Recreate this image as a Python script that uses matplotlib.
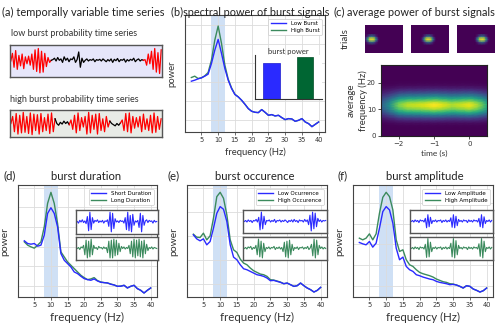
import numpy as np
import matplotlib
matplotlib.use("Agg")
import matplotlib.pyplot as plt

# ---------------- data ----------------
freqs = list(range(2, 41))

b_low = [15.2, 15.5, 15.9, 16.2, 16.7, 17.3, 20.5, 24.5, 27.7, 23.5, 19.0, 15.5, 13.0, 11.2, 10.5, 9.5, 8.3, 7.0, 6.2, 5.9,
         5.8, 6.7, 5.9, 5.0, 5.2, 4.8, 5.0, 4.3, 3.7, 4.0, 3.9, 3.2, 3.5, 4.0, 3.0, 2.5, 1.6, 2.3, 3.0]
b_high = [16.3, 16.7, 16.0, 16.2, 16.8, 17.8, 21.5, 27.5, 31.7, 26.5, 20.0, 15.8, 13.2, 11.3, 10.5, 9.5, 8.3, 7.0, 6.2, 5.9,
          5.8, 6.7, 5.9, 5.0, 5.2, 4.8, 5.0, 4.3, 3.7, 4.0, 3.9, 3.2, 3.5, 4.0, 3.0, 2.5, 1.6, 2.3, 3.0]

d_low = [16.8, 16.0, 15.8, 16.0, 15.2, 15.5, 18.5, 25.0, 26.7, 25.0, 21.0, 13.0, 11.0, 10.0, 9.0, 7.5, 7.0, 6.2, 5.5, 5.2,
         5.0, 5.4, 4.8, 4.4, 4.3, 4.2, 3.8, 3.6, 3.2, 3.2, 3.5, 2.7, 3.2, 3.5, 2.5, 2.0, 1.2, 2.0, 2.7]
d_high = [16.5, 15.5, 15.0, 14.6, 15.5, 16.5, 21.0, 28.0, 31.3, 28.0, 22.0, 13.5, 12.0, 10.5, 9.5, 8.5, 7.5, 6.5, 5.8, 5.2,
          5.4, 5.8, 4.9, 4.5, 4.3, 4.2, 3.9, 3.6, 3.2, 3.3, 3.5, 2.7, 3.2, 3.5, 2.5, 2.0, 1.2, 2.0, 2.7]

e_low = [18.7, 17.5, 16.9, 17.5, 15.7, 16.7, 20.7, 25.2, 27.2, 26.4, 22.7, 15.7, 12.0, 11.2, 9.7, 8.5, 8.2, 7.7, 7.2, 6.7,
         6.5, 6.2, 5.7, 4.9, 5.0, 4.7, 4.4, 4.0, 4.2, 3.7, 3.2, 3.4, 4.2, 3.4, 2.7, 2.2, 1.5, 2.0, 2.9]
e_high = [18.9, 18.0, 17.9, 19.2, 17.2, 18.4, 23.7, 30.2, 31.5, 29.7, 24.7, 17.2, 14.2, 13.4, 11.4, 10.2, 9.7, 8.7, 7.9, 7.4,
          6.9, 6.7, 6.2, 5.2, 5.1, 4.8, 4.5, 4.0, 4.2, 3.7, 3.2, 3.4, 4.2, 3.4, 2.7, 2.2, 1.5, 2.0, 2.9]

f_low = [16.4, 16.0, 15.7, 16.7, 15.0, 16.2, 20.7, 25.7, 27.2, 26.2, 22.2, 14.7, 11.2, 12.0, 9.2, 8.2, 7.7, 6.7, 6.4, 6.0,
         5.7, 5.4, 5.2, 4.7, 4.4, 4.2, 4.0, 3.7, 3.8, 3.6, 3.2, 2.7, 3.4, 3.2, 2.4, 2.0, 1.5, 1.9, 2.7]
f_high = [17.7, 17.2, 17.7, 19.0, 17.2, 19.0, 25.2, 30.0, 31.5, 30.2, 26.2, 17.2, 13.7, 14.2, 11.2, 9.7, 9.2, 8.2, 7.4, 7.0,
          6.7, 6.4, 6.0, 5.4, 5.0, 4.6, 4.4, 4.0, 3.9, 3.6, 3.2, 2.7, 3.4, 3.2, 2.4, 2.0, 1.5, 1.9, 2.7]

bar_labels = ["Low Burst", "High Burst"]
bar_values = [0.82, 0.95]

# (a) time series: segments (values, colour)
low_red_a = [0.0, 0.55, -0.45, 0.75, -0.6, 0.4, -0.35, 0.5, -0.55, 0.3, -0.2, 0.35, -0.3, 0.5, -0.6, 0.8, -0.75, 0.9,
             -0.85, 0.7, -0.8, 0.55, -0.4, 0.25, -0.1, 0.05]
low_black = [0.1, 0.2, 0.0, 0.25, 0.05, 0.15, -0.1, 0.3, 0.05, 0.2, -0.05, 0.15, 0.1, 0.3, -0.1, 0.1, 0.65, -0.45, 0.2,
             -0.1, 0.05, 0.15, 0.0, 0.1, 0.05, 0.15, -0.05, 0.1, 0.05, 0.12, 0.0, 0.15, 0.05, -0.05, 0.1, 0.0, 0.15, -0.1,
             0.12, 0.02, 0.18, -0.05, 0.1, 0.05, 0.15, -0.08, 0.1, 0.0, 0.12, 0.05, 0.2, -0.05, 0.08, 0.15, 0.0, 0.1, 0.05]
low_red_b = [0.1, -0.3, 0.5, -0.2, 0.7, -0.6, 0.9, -0.8, 0.6, -0.9, 0.8]

high_red_1 = [0.0, 0.6, -0.7, 0.85, -0.9, 0.7, -0.8, 0.95, -0.75, 0.6, -0.85, 0.9, -0.95, 0.8, -0.6, 0.75, -0.9, 0.85,
              -0.7, 0.5, -0.6, 0.8, -0.85, 0.9, -0.7, 0.4]
high_black_1 = [0.0, -0.15, 0.1, -0.05, 0.2, 0.0, 0.15, -0.1]
high_red_2 = [0.3, -0.5, 0.7, -0.8, 0.9, -0.6, 0.5, -0.3, 0.6, -0.9, 0.95, -0.8, 0.7, -0.5, 0.8, -0.9, 0.85, -0.6, 0.4,
              -0.7, 0.6, -0.3, 0.2]
high_black_2 = [0.0, -0.1, -0.2, 0.0, -0.15, 0.05]
high_red_3 = [0.3, -0.6, 0.85, -0.7, 0.9, -0.8, 0.6, -0.4, 0.5, -0.3, 0.6, -0.7, 0.8, -0.5, 0.4, -0.6, 0.7, -0.8, 0.9,
              -0.75, 0.6, -0.5, 0.4]

# inset signals of (d), (e), (f)
d_sig_blue = [0.05, -0.1, 0.15, 0.0, 0.2, -0.05, 0.1, -0.15, 0.5, -0.8, 0.9, -0.7, 0.4, -0.1, 0.15, 0.05, 0.2, -0.05,
              0.1, 0.0, 0.15, -0.1, 0.1, 0.05, 0.2, -0.4, 0.9, -0.9, 0.8, -0.6, 0.3, 0.0, 0.1, -0.05, 0.15, 0.05, 0.1,
              -0.1, 0.4, -0.7, 0.9, -0.8, 0.6, -0.9, 0.7, -0.3, 0.1, 0.0, 0.15, -0.5, 0.8, -0.9, 0.6, -0.3, 0.1, 0.2,
              -0.05, 0.15, 0.05, 0.1, -0.1, 0.15, 0.0, 0.05]
d_sig_green = [0.0, 0.1, -0.1, 0.15, 0.05, 0.3, -0.6, 0.8, -0.9, 0.7, -0.8, 0.9, -0.6, 0.3, 0.0, 0.1, -0.1, 0.2, 0.05,
               0.1, -0.05, 0.15, 0.0, 0.1, -0.4, 0.7, -0.9, 0.8, -0.9, 0.9, -0.7, 0.8, -0.6, 0.5, -0.3, 0.2, 0.0, 0.15,
               -0.05, 0.1, 0.0, 0.3, -0.5, 0.7, -0.8, 0.9, -0.9, 0.8, -0.7, 0.9, -0.8, 0.7, -0.9, 0.8, -0.5, 0.4, -0.2,
               0.1, 0.0, 0.15, -0.05, 0.1, 0.05, 0.0]
e_sig_blue = [0.0, 0.1, -0.05, 0.15, 0.0, 0.1, -0.1, 0.1, 0.05, 0.2, -0.05, 0.4, -0.8, 0.9, -0.7, 0.5, -0.3, 0.1, 0.05,
              0.15, -0.05, 0.1, 0.0, 0.2, -0.1, 0.1, 0.05, 0.15, -0.05, 0.1, 0.0, 0.15, 0.05, -0.1, 0.1, 0.0, 0.15,
              -0.05, 0.2, 0.0, 0.1, -0.1, 0.15, 0.05, 0.1, -0.05, 0.2, 0.0, 0.15, -0.3, 0.6, -0.9, 0.9, -0.7, 0.8,
              -0.5, 0.3, 0.0, 0.15, -0.05, 0.1, 0.05, 0.1]
e_sig_green = [0.0, 0.1, -0.05, 0.15, 0.05, 0.2, -0.1, 0.1, 0.0, 0.3, -0.6, 0.9, -0.8, 0.7, -0.9, 0.5, -0.3, 0.1, 0.0,
               0.15, -0.05, 0.1, 0.05, 0.2, -0.1, 0.1, 0.0, 0.15, -0.05, 0.1, -0.3, 0.6, -0.8, 0.7, -0.9, 0.8, -0.6,
               0.4, -0.2, 0.1, 0.0, 0.15, -0.1, 0.1, 0.05, 0.15, -0.05, 0.1, 0.0, 0.2, -0.1, 0.05, 0.4, -0.7, 0.9,
               -0.9, 0.8, -0.6, 0.3, 0.0, 0.15, -0.05, 0.1, 0.0]
f_sig_blue = [0.0, 0.1, -0.05, 0.15, 0.0, 0.1, -0.1, 0.15, 0.05, 0.1, -0.05, 0.3, -0.6, 0.65, -0.5, 0.4, -0.2, 0.1, 0.0,
              0.15, -0.05, 0.1, 0.05, 0.15, -0.1, 0.1, 0.0, 0.15, -0.05, 0.1, 0.0, 0.35, -0.55, 0.65, -0.6, 0.5, -0.4,
              0.2, 0.0, 0.1, -0.05, 0.15, 0.05, 0.1, -0.1, 0.15, 0.0, 0.1, -0.05, 0.15, 0.05, 0.1, -0.05, 0.3, -0.5,
              0.65, -0.6, 0.45, -0.2, 0.1, 0.0, 0.15, -0.05, 0.1]
f_sig_green = [0.0, 0.1, -0.05, 0.15, 0.0, 0.1, -0.1, 0.15, 0.05, 0.1, -0.05, 0.4, -0.85, 0.95, -0.8, 0.6, -0.3, 0.1,
               0.0, 0.15, -0.05, 0.1, 0.05, 0.15, -0.1, 0.1, 0.0, 0.15, -0.05, 0.1, 0.0, 0.5, -0.8, 0.95, -0.9, 0.75,
               -0.6, 0.3, 0.0, 0.1, -0.05, 0.15, 0.05, 0.1, -0.1, 0.15, 0.0, 0.1, -0.05, 0.15, 0.05, 0.1, -0.05, 0.45,
               -0.75, 0.95, -0.9, 0.7, -0.3, 0.1, 0.0, 0.15, -0.05, 0.1]

# (c) heat map profiles
heat_times = [-2.5, -2.25, -2.0, -1.75, -1.5, -1.25, -1.0, -0.75, -0.5, -0.25, 0.0, 0.25, 0.5]
heat_time_profile = [0.3, 0.5, 0.8, 0.9, 0.92, 0.95, 1.0, 0.95, 0.88, 0.92, 0.97, 0.85, 0.6]
heat_freqs = list(range(0, 28))
heat_freq_profile = [0, 0, 0, 0, 0.01, 0.04, 0.12, 0.25, 0.45, 0.68, 0.87, 0.98, 1.0, 0.87, 0.68, 0.47, 0.3, 0.17,
                     0.08, 0.03, 0.01, 0, 0, 0, 0, 0, 0, 0]
trial_blob = [[0.0, 0.05, 0.15, 0.3, 0.4, 0.4, 0.3, 0.15, 0.05, 0.0],
              [0.05, 0.3, 0.65, 0.95, 1.0, 1.0, 0.95, 0.65, 0.3, 0.05],
              [0.0, 0.05, 0.15, 0.3, 0.4, 0.4, 0.3, 0.15, 0.05, 0.0]]
trial_start_cols = [0, 7, 12]

# ---------------- style ----------------
BLUE = "#2a2aff"
GREEN = "#3b8a5d"
BAND = "#cfe0f5"
LF = "Lato"
W, H = 500, 324

fig = plt.figure(figsize=(5.0, 3.24), dpi=100)


def px_axes(x0, y0, x1, y1, **kw):
    return fig.add_axes([x0 / W, 1 - y1 / H, (x1 - x0) / W, (y1 - y0) / H], **kw)


def ftext(x, y, s, **kw):
    kw.setdefault("family", LF)
    fig.text(x / W, 1 - y / H, s, **kw)


def spectrum_axes(box, low, high, labels, ylim, gridvals, xl=8.3, yl=7.5):
    ax = px_axes(*box)
    ax.axvspan(8, 12, color=BAND, lw=0, zorder=0)
    ax.plot(freqs, low, color=BLUE, lw=1.0, label=labels[0], zorder=3)
    ax.plot(freqs, high, color=GREEN, lw=1.0, label=labels[1], zorder=2)
    ax.set_xlim(0.1, 41.9)
    ax.set_ylim(*ylim)
    ax.set_xticks([5, 10, 15, 20, 25, 30, 35, 40])
    ax.set_yticks(gridvals)
    ax.set_yticklabels([])
    ax.grid(True, color="#dcdcdc", lw=0.6, zorder=0)
    ax.set_axisbelow(True)
    ax.tick_params(axis="x", labelsize=4.8, length=2, width=0.5, pad=1.5, colors="#333333")
    ax.tick_params(axis="y", length=0)
    for s in ax.spines.values():
        s.set_color("#444444")
        s.set_linewidth(0.8)
    ax.set_xlabel("frequency (Hz)", family=LF, fontsize=xl, color="#333333", labelpad=3)
    ax.set_ylabel("power", family=LF, fontsize=yl, color="#333333", labelpad=3)
    leg = ax.legend(loc="upper right", fontsize=4, frameon=True, handlelength=2.8, borderpad=0.4,
                    labelspacing=0.3, fancybox=True, framealpha=1, edgecolor="#cccccc",
                    bbox_to_anchor=(0.995, 0.99))
    leg.get_frame().set_linewidth(0.5)
    return ax


def signal_inset(box, sig, color):
    ax = px_axes(*box)
    ax.plot(range(len(sig)), sig, color=color, lw=0.8)
    ax.set_xlim(-1, len(sig))
    ax.set_ylim(-1.1, 1.1)
    ax.set_xticks([])
    ax.set_yticks([])
    ax.set_facecolor("white")
    for s in ax.spines.values():
        s.set_color("#555555")
        s.set_linewidth(1.0)
    return ax


def series_box(box, segments, face):
    ax = px_axes(*box)
    start = 0
    prev = None
    for vals, col in segments:
        xs = list(range(start, start + len(vals)))
        ys = list(vals)
        if prev is not None:
            xs = [start - 1] + xs
            ys = [prev] + ys
        ax.plot(xs, ys, color=col, lw=0.9)
        start += len(vals)
        prev = vals[-1]
    ax.set_xlim(-0.5, start - 0.5)
    ax.set_ylim(-1.15, 1.15)
    ax.set_facecolor(face)
    ax.set_xticks([])
    ax.set_yticks([])
    for s in ax.spines.values():
        s.set_color("#555555")
        s.set_linewidth(1.0)
    return ax


# ---------------- panel (a) ----------------
ftext(2, 12, "(a) temporally variable time series", fontsize=7.9, va="center", ha="left", color="#222222")
ftext(11, 33, "low burst probability time series", fontsize=6.5, va="center", ha="left", color="#333333")
ftext(10, 99, "high burst probability time series", fontsize=6.5, va="center", ha="left", color="#333333")
series_box((10, 45, 162, 77), [(low_red_a, "red"), (low_black, "black"), (low_red_b, "red")], "#e6e6fa")
series_box((10, 110, 162, 137), [(high_red_1, "red"), (high_black_1, "black"), (high_red_2, "red"),
                                  (high_black_2, "black"), (high_red_3, "red")], "#e8ebe6")

# ---------------- panel (b) ----------------
ftext(171, 12, "(b)spectral power of burst signals", fontsize=7.8, va="center", ha="left", color="#222222")
axb = spectrum_axes((185, 15, 325, 132), b_low, b_high, bar_labels, (0, 35),
                    [3.7, 9.4, 15.0, 20.7, 26.3, 32.0], xl=6.8, yl=6.8)

axbar = px_axes(255, 55, 322, 99)
axbar.bar([0, 1], bar_values, width=0.5, color=[BLUE, "#006633"], edgecolor=["#1a1acc", "#004d26"], linewidth=0.5)
axbar.set_xlim(-0.49, 1.51)
axbar.set_ylim(0, 1.0)
axbar.set_xticks([])
axbar.set_yticks([])
axbar.set_facecolor("white")
axbar.spines["top"].set_visible(False)
axbar.spines["right"].set_visible(False)
axbar.spines["left"].set_color("#333333")
axbar.spines["bottom"].set_color("#333333")
axbar.spines["left"].set_linewidth(0.8)
axbar.spines["bottom"].set_linewidth(0.8)
axbar.set_title("burst power", family=LF, fontsize=5.5, color="#333333", pad=1)

# ---------------- panel (c) ----------------
ftext(334, 12, "(c)", fontsize=8.2, va="center", ha="left", color="#222222")
ftext(347, 12, "average power of burst signals", fontsize=7.9, va="center", ha="left", color="#222222")
ftext(345, 39, "trials", fontsize=7, rotation=90, va="center", ha="center", color="#333333")
ftext(351, 100, "average", fontsize=7, rotation=90, va="center", ha="center", color="#333333")

trial_rows, trial_cols = 11, 26
for i, c0 in enumerate(trial_start_cols):
    x0 = 365 + i * 46
    axt = px_axes(x0, 25, x0 + 38, 53)
    img = np.zeros((trial_rows, trial_cols))
    blob = np.array(trial_blob)
    img[4:7, c0:c0 + blob.shape[1]] = blob
    axt.pcolormesh(np.arange(trial_cols), np.arange(trial_rows), img, shading="gouraud", cmap="viridis",
                   vmin=0, vmax=1)
    axt.set_xlim(0, trial_cols - 1)
    axt.set_ylim(0, trial_rows - 1)
    axt.set_xticks([])
    axt.set_yticks([])
    for s in axt.spines.values():
        s.set_visible(False)

axc = px_axes(381, 65, 487, 136)
Z = np.outer(heat_freq_profile, heat_time_profile)
axc.pcolormesh(heat_times, heat_freqs, Z, shading="gouraud", cmap="viridis", vmin=0, vmax=1)
axc.set_xlim(-2.5, 0.5)
axc.set_ylim(0, 26.6)
axc.set_xticks([-2, -1, 0])
axc.set_yticks([0, 10, 20])
axc.tick_params(labelsize=5, length=2.5, width=0.6, pad=1.2, colors="#333333")
axc.set_xlabel("time (s)", family=LF, fontsize=6, color="#333333", labelpad=2)
axc.set_ylabel("frequency (Hz)", family=LF, fontsize=6.8, color="#333333")
axc.yaxis.set_label_coords(-(381 - 368) / (487 - 381), 0.5)
for s in axc.spines.values():
    s.set_color("#222222")
    s.set_linewidth(0.8)

# ---------------- panels (d), (e), (f) ----------------
ftext(3, 176, "(d)", fontsize=8.3, va="center", ha="left", color="#222222")
ftext(86, 176, "burst duration", fontsize=8.1, va="center", ha="center", color="#222222")
spectrum_axes((18, 185, 157, 297), d_low, d_high, ["Short Duration", "Long Duration"], (0, 33.5),
              [3.3, 9.2, 15.1, 21.0, 26.8, 32.7])
signal_inset((76, 210, 158, 234), d_sig_blue, BLUE)
signal_inset((76, 237, 158, 260), d_sig_green, GREEN)

ftext(167, 176, "(e)", fontsize=8.3, va="center", ha="left", color="#222222")
ftext(255, 176, "burst occurence", fontsize=8.1, va="center", ha="center", color="#222222")
spectrum_axes((187, 185, 327, 297), e_low, e_high, ["Low Ocurrence", "High Occurence"], (0, 33.7),
              [4.0, 11.2, 18.4, 25.7, 32.9])
signal_inset((243, 210, 327, 233), e_sig_blue, BLUE)
signal_inset((243, 237, 327, 260), e_sig_green, GREEN)

ftext(338, 176, "(f)", fontsize=8.3, va="center", ha="left", color="#222222")
ftext(425, 176, "burst amplitude", fontsize=8.1, va="center", ha="center", color="#222222")
spectrum_axes((353, 185, 493, 297), f_low, f_high, ["Low Amplitude", "High Amplitude"], (0, 33.7),
              [3.4, 9.6, 15.8, 22.0, 28.2])
signal_inset((410, 210, 493, 233), f_sig_blue, BLUE)
signal_inset((410, 237, 493, 260), f_sig_green, GREEN)

fig.savefig("out.png", dpi=100)
